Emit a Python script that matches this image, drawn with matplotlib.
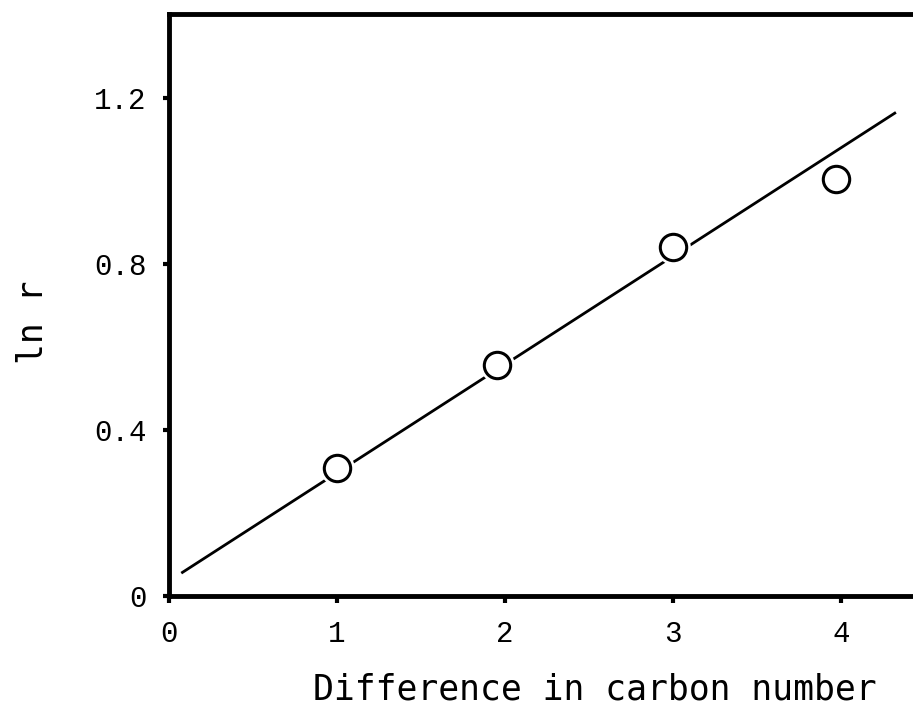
import numpy as np
import matplotlib
matplotlib.use("Agg")
import matplotlib.pyplot as plt

# Data
carbon_diff = [1.0, 1.95, 3.0, 3.97]
ln_r = [0.308, 0.557, 0.840, 1.005]
fit_x = [0.08, 4.32]
fit_slope = 0.261
fit_intercept = 0.036
x_ticks = [0, 1, 2, 3, 4]
x_ticklabels = ["0", "1", "2", "3", "4"]
y_ticks = [0, 0.4, 0.8, 1.2]
y_ticklabels = ["0", "0.4", "0.8", "1.2"]

W, H = 913, 721
fig = plt.figure(figsize=(W / 100, H / 100), dpi=100)
left, right, bottom, top = 169, 913, 596, 14
ax = fig.add_axes([left / W, 1 - bottom / H, (right - left) / W, (bottom - top) / H])

ax.set_xlim(0, (right - left) / 168.0)
ax.set_ylim(0, (bottom - top) / 415.0)

fx = np.array(fit_x)
ax.plot(fx, fit_slope * fx + fit_intercept, color="black", lw=2.0, zorder=2)
# white halo under markers to break the line
ax.plot(carbon_diff, ln_r, "o", ms=25, mfc="white", mec="white", mew=0, zorder=3)
ax.plot(carbon_diff, ln_r, "o", ms=19, mfc="white", mec="black", mew=2.2, zorder=4)

for s in ["left", "bottom", "top"]:
    ax.spines[s].set_linewidth(3.5)
ax.spines["right"].set_visible(False)

mono = "Liberation Mono"
ax.set_xticks(x_ticks)
ax.set_xticklabels(x_ticklabels, fontfamily=mono, fontsize=21)
ax.set_yticks(y_ticks)
ax.set_yticklabels(y_ticklabels, fontfamily=mono, fontsize=21)
ax.tick_params(axis="x", direction="out", length=5, width=3, pad=12)
ax.tick_params(axis="y", direction="out", length=4, width=3, pad=12)

fig.text(595 / W, 1 - 690 / H, "Difference in carbon number", ha="center", va="center",
         fontfamily="DejaVu Sans Mono", fontsize=25)
fig.text(33 / W, 1 - 322 / H, "ln r", ha="center", va="center", rotation=90,
         fontfamily="DejaVu Sans Mono", fontsize=25)

fig.savefig("out.png", dpi=100)
